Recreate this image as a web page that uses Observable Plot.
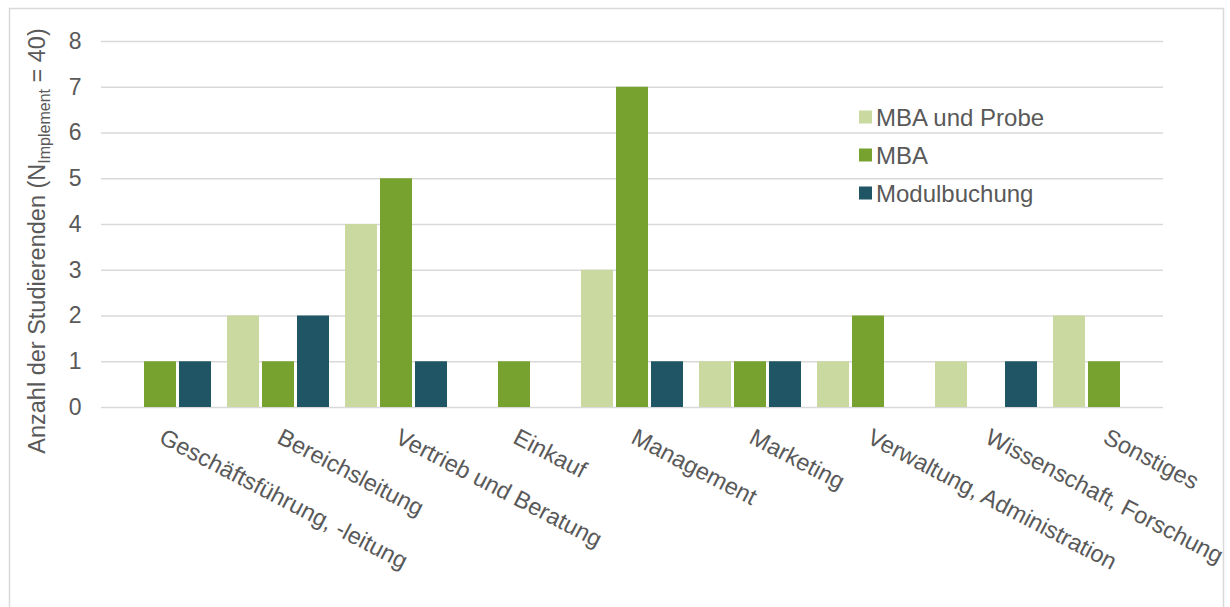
<!DOCTYPE html>
<html><head><meta charset="utf-8">
<script src="https://cdn.jsdelivr.net/npm/d3@7"></script>
<script src="https://cdn.jsdelivr.net/npm/@observablehq/plot@0.6"></script>
<style>body{margin:0;background:#fff} svg{display:block}</style>
</head><body><div id="chart"></div>
<script>
const categories = ["Geschäftsführung, -leitung","Bereichsleitung","Vertrieb und Beratung","Einkauf","Management","Marketing","Verwaltung, Administration","Wissenschaft, Forschung","Sonstiges"];
const seriesNames = ["MBA und Probe","MBA","Modulbuchung"];
const mbaUndProbe = [0,2,4,0,3,1,1,1,2];
const mba = [1,1,5,1,7,1,2,0,1];
const modulbuchung = [1,2,1,0,1,1,0,1,0];
const yTicks = [0,1,2,3,4,5,6,7,8];
const colors = ["#C9D9A0","#78A22F","#1F5564"];
const yTitleMain = "Anzahl der Studierenden (N";
const yTitleSub = "Implement";
const yTitleEnd = " = 40)";

const values = [mbaUndProbe, mba, modulbuchung];
const data = categories.flatMap((c, i) => seriesNames.map((s, j) => ({category: c, series: s, value: values[j][i]})));

const FONT = "'Liberation Sans', Arial, sans-serif";
const TEXT = "#595959";

const chart = Plot.plot({
  width: 1230, height: 607,
  marginLeft: 100, marginRight: 66, marginTop: 41, marginBottom: 200,
  style: {fontFamily: FONT, color: TEXT, background: "#fff", overflow: "visible"},
  fx: {domain: categories, padding: 0, label: null},
  x: {domain: seriesNames, paddingInner: 0.1, paddingOuter: 0.23, axis: null},
  y: {domain: [0, 8], label: null},
  color: {domain: seriesNames, range: colors},
  marks: [
    Plot.ruleY(yTicks, {stroke: "#d9d9d9", strokeWidth: 1.5}),
    Plot.barY(data, {fx: "category", x: "series", y: "value", fill: "series"}),
    Plot.axisY({ticks: yTicks, tickSize: 0, tickPadding: 20, fontSize: 23, label: null, fill: TEXT}),
    Plot.axisFx({anchor: "bottom", tickSize: 0, tickPadding: 20, dx: 5, tickRotate: 27.5, textAnchor: "start", lineAnchor: "top", fontSize: 23.5, label: null, fill: TEXT})
  ]
});
document.getElementById("chart").appendChild(chart);

const svg = d3.select(chart);
// outer border
svg.insert("rect", ":first-child")
  .attr("x", 9.5).attr("y", 8.5).attr("width", 1214).attr("height", 620)
  .attr("fill", "none").attr("stroke", "#d9d9d9").attr("stroke-width", 1.5);

// y title with subscript
const t = svg.append("text")
  .attr("transform", "translate(45,241) rotate(-90)")
  .attr("text-anchor", "middle")
  .attr("font-family", FONT).attr("font-size", 23.5).attr("fill", TEXT);
t.append("tspan").text(yTitleMain);
t.append("tspan").attr("font-size", 16).attr("dy", 5).text(yTitleSub);
t.append("tspan").attr("dy", -5).text(yTitleEnd);

// legend
const lg = svg.append("g").attr("font-family", FONT).attr("font-size", 24).attr("fill", TEXT).attr("text-anchor", "start");
seriesNames.forEach((s, i) => {
  const cy = 117 + i * 38;
  lg.append("rect").attr("x", 859).attr("y", cy - 6.5).attr("width", 13).attr("height", 13).attr("fill", colors[i]);
  lg.append("text").attr("x", 876).attr("y", cy + 8.5).attr("text-anchor", "start").text(s);
});
</script>
</body></html>
